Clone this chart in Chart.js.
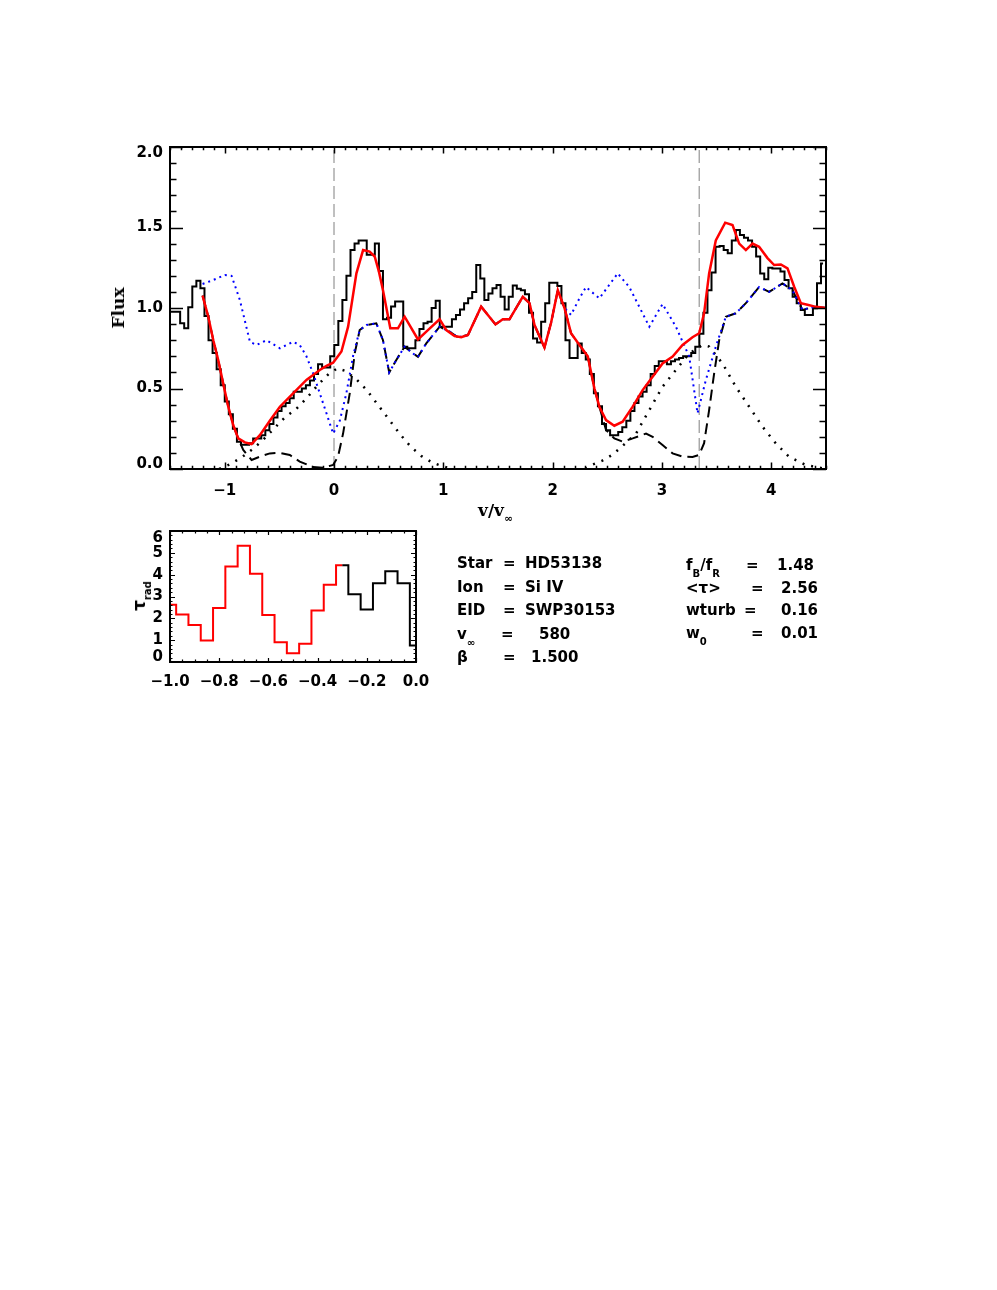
<!DOCTYPE html>
<html>
<head>
<meta charset="utf-8">
<script src="https://cdn.jsdelivr.net/npm/chart.js@4.4.1/dist/chart.umd.min.js"></script>
<style>
  html, body { margin: 0; padding: 0; background: #fff; }
  body { width: 997px; height: 1290px; position: relative; overflow: hidden; color: #000;
         font-family: "DejaVu Sans", sans-serif; }
  canvas { position: absolute; left: 0; }
  #mainChart { top: 0; }
  #tauChart { top: 515px; }
  .t { position: absolute; font-size: 15px; font-weight: bold; line-height: 20px; white-space: nowrap; }
  .t sub { font-size: 10px; line-height: 0; vertical-align: -7px; }
  .title { position: absolute; font-family: "DejaVu Serif", serif; font-weight: bold; font-size: 17px; line-height: 20px; white-space: nowrap; }
  .title sub { font-size: 11px; line-height: 0; vertical-align: -6px; }
</style>
</head>
<body>
<canvas id="mainChart" width="997" height="505"></canvas>
<canvas id="tauChart" width="997" height="185"></canvas>

<!-- axis titles -->
<div class="title" style="left:118px; top:308px; transform:translate(-50%,-50%) rotate(-90deg);">Flux</div>
<div class="title" style="left:478px; top:500px;">v/v<sub>∞</sub></div>
<div class="title" style="left:139px; top:596px; transform:translate(-50%,-50%) rotate(-90deg); font-family:'DejaVu Sans',sans-serif;">τ<sub style="font-size:10px">rad</sub></div>

<!-- fit parameters, left column -->
<div class="t" style="left:457px; top:553px;">Star</div>
<div class="t" style="left:503px; top:553px;">=</div>
<div class="t" style="left:525px; top:553px;">HD53138</div>
<div class="t" style="left:457px; top:577px;">Ion</div>
<div class="t" style="left:503px; top:577px;">=</div>
<div class="t" style="left:525px; top:577px;">Si IV</div>
<div class="t" style="left:457px; top:600px;">EID</div>
<div class="t" style="left:503px; top:600px;">=</div>
<div class="t" style="left:525px; top:600px;">SWP30153</div>
<div class="t" style="left:457px; top:624px;">v<sub>∞</sub></div>
<div class="t" style="left:501px; top:624px;">=</div>
<div class="t" style="left:539px; top:624px;">580</div>
<div class="t" style="left:457px; top:647px;">β</div>
<div class="t" style="left:503px; top:647px;">=</div>
<div class="t" style="left:531px; top:647px;">1.500</div>

<!-- fit parameters, right column -->
<div class="t" style="left:686px; top:555px;">f<sub>B</sub>/f<sub>R</sub></div>
<div class="t" style="left:746px; top:555px;">=</div>
<div class="t" style="left:777px; top:555px;">1.48</div>
<div class="t" style="left:686px; top:578px;">&lt;τ&gt;</div>
<div class="t" style="left:751px; top:578px;">=</div>
<div class="t" style="left:781px; top:578px;">2.56</div>
<div class="t" style="left:686px; top:600px;">wturb</div>
<div class="t" style="left:744px; top:600px;">=</div>
<div class="t" style="left:781px; top:600px;">0.16</div>
<div class="t" style="left:686px; top:623px;">w<sub>0</sub></div>
<div class="t" style="left:751px; top:623px;">=</div>
<div class="t" style="left:781px; top:623px;">0.01</div>

<script>
// ---- observed flux histogram (0.1 A bins) ----
const obsStart = -1.50;
const obsStep = 0.0371;
const obsFlux = [
  0.977, 0.977, 0.977, 0.905, 0.874, 1.004, 1.133, 1.17, 1.122, 0.95,
  0.80, 0.72, 0.62, 0.52, 0.42, 0.34, 0.25, 0.17, 0.15, 0.15,
  0.16, 0.19, 0.19, 0.21, 0.24, 0.28, 0.32, 0.36, 0.39, 0.41,
  0.44, 0.48, 0.48, 0.50, 0.52, 0.55, 0.59, 0.65, 0.63, 0.63,
  0.70, 0.77, 0.92, 1.05, 1.20, 1.36, 1.40, 1.42, 1.42, 1.33,
  1.33, 1.40, 1.23, 0.93, 0.94, 1.01, 1.04, 1.04, 0.76, 0.75,
  0.75, 0.80, 0.87, 0.905, 0.915, 1.00, 1.045, 0.884, 0.884, 0.884,
  0.93, 0.957, 0.99, 1.03, 1.06, 1.10, 1.267, 1.184, 1.05, 1.09,
  1.122, 1.143, 1.07, 0.99, 1.07, 1.14, 1.12, 1.11, 1.085, 0.97,
  0.81, 0.785, 0.915, 1.03, 1.157, 1.157, 1.137, 1.03, 0.80, 0.69,
  0.69, 0.78, 0.72, 0.68, 0.59, 0.47, 0.39, 0.28, 0.24, 0.21,
  0.21, 0.23, 0.26, 0.30, 0.36, 0.41, 0.45, 0.48, 0.52, 0.59,
  0.64, 0.67, 0.67, 0.65, 0.67, 0.68, 0.69, 0.70, 0.70, 0.72,
  0.76, 0.84, 0.97, 1.11, 1.22, 1.38, 1.385, 1.36, 1.34, 1.42,
  1.484, 1.453, 1.437, 1.42, 1.38, 1.32, 1.215, 1.178, 1.25, 1.246,
  1.246, 1.226, 1.174, 1.122, 1.07, 1.03, 0.988, 0.957, 0.957, 0.998,
  1.153, 1.277
];

// ---- model fit (red) ----
const fitV = [
  -1.202, -1.150, -1.104, -1.059, -1.013, -0.967, -0.922, -0.876, -0.815, -0.754,
  -0.678, -0.587, -0.495, -0.374, -0.252, -0.130, -0.069, -0.008, 0.068, 0.129,
  0.205, 0.266, 0.326, 0.372, 0.411, 0.448, 0.515, 0.585, 0.646, 0.768,
  0.859, 0.966, 1.027, 1.103, 1.164, 1.225, 1.346, 1.477, 1.544, 1.605,
  1.727, 1.788, 1.834, 1.925, 1.986, 2.047, 2.108, 2.168, 2.245, 2.321,
  2.382, 2.427, 2.488, 2.564, 2.640, 2.732, 2.823, 2.914, 3.005, 3.097,
  3.188, 3.279, 3.340, 3.385, 3.431, 3.492, 3.578, 3.645, 3.706, 3.767,
  3.828, 3.888, 3.965, 4.026, 4.087, 4.148, 4.209, 4.270, 4.330, 4.391, 4.5
];
const fitFlux = [
  1.077, 0.946, 0.80, 0.677, 0.53, 0.387, 0.273, 0.19, 0.165, 0.155,
  0.21, 0.30, 0.387, 0.47, 0.553, 0.615, 0.64, 0.66, 0.73, 0.884,
  1.215, 1.36, 1.35, 1.32, 1.226, 1.11, 0.874, 0.874, 0.946, 0.805,
  0.863, 0.930, 0.863, 0.826, 0.818, 0.832, 1.008, 0.898, 0.930, 0.930,
  1.07, 1.03, 0.894, 0.754, 0.91, 1.11, 1.00, 0.843, 0.77, 0.70,
  0.50, 0.387, 0.304, 0.269, 0.294, 0.387, 0.49, 0.573, 0.656, 0.698,
  0.77, 0.818, 0.843, 0.967, 1.215, 1.42, 1.53, 1.515, 1.40, 1.36,
  1.40, 1.38, 1.31, 1.267, 1.27, 1.246, 1.132, 1.03, 1.02, 1.01, 1.0
];

// ---- blue dotted profile ----
const blueV = [
  -1.202, -1.104, -0.998, -0.937, -0.861, -0.769, -0.709, -0.617, -0.495, -0.374,
  -0.313, -0.252, -0.191, -0.130, -0.069, -0.008, 0.053, 0.113, 0.174, 0.235,
  0.296, 0.387, 0.448, 0.505, 0.570, 0.646, 0.722, 0.768, 0.844, 0.966,
  1.057, 1.133, 1.225, 1.346, 1.477, 1.544, 1.605, 1.727, 1.788, 1.834,
  1.925, 1.986, 2.047, 2.108, 2.168, 2.245, 2.305, 2.427, 2.595, 2.701,
  2.884, 3.005, 3.127, 3.249, 3.325, 3.401, 3.492, 3.584, 3.675, 3.767,
  3.888, 3.980, 4.102, 4.193, 4.285, 4.391, 4.5
];
const blueFlux = [
  1.149, 1.174, 1.205, 1.20, 1.05, 0.79, 0.77, 0.80, 0.75, 0.79,
  0.77, 0.70, 0.594, 0.47, 0.346, 0.22, 0.30, 0.47, 0.70, 0.863,
  0.894, 0.905, 0.80, 0.60, 0.677, 0.76, 0.718, 0.697, 0.78, 0.884,
  0.853, 0.818, 0.832, 1.008, 0.898, 0.930, 0.930, 1.07, 1.03, 0.894,
  0.754, 0.91, 1.11, 1.00, 0.957, 1.06, 1.13, 1.06, 1.215, 1.13,
  0.884, 1.025, 0.884, 0.698, 0.346, 0.553, 0.76, 0.946, 0.967, 1.03,
  1.13, 1.10, 1.153, 1.11, 0.988, 1.008, 1.0
];

// ---- black dashed profile ----
const dashV = [
  -1.202, -1.150, -1.104, -1.059, -1.013, -0.967, -0.922, -0.876, -0.830, -0.754,
  -0.678, -0.587, -0.495, -0.404, -0.313, -0.191, -0.100, -0.008, 0.037, 0.083,
  0.144, 0.190, 0.235, 0.296, 0.387, 0.448, 0.505, 0.570, 0.646, 0.722,
  0.768, 0.844, 0.966, 1.057, 1.133, 1.225, 1.346, 1.477, 1.544, 1.605,
  1.727, 1.788, 1.834, 1.925, 1.986, 2.047, 2.108, 2.168, 2.245, 2.321,
  2.382, 2.427, 2.488, 2.564, 2.640, 2.732, 2.854, 2.914, 3.005, 3.097,
  3.188, 3.279, 3.340, 3.385, 3.431, 3.477, 3.523, 3.584, 3.675, 3.767,
  3.888, 3.980, 4.102, 4.193, 4.285, 4.391, 4.5
];
const dashFlux = [
  1.077, 0.946, 0.80, 0.677, 0.53, 0.387, 0.273, 0.19, 0.118, 0.056,
  0.077, 0.097, 0.10, 0.087, 0.046, 0.012, 0.008, 0.025, 0.077, 0.22,
  0.47, 0.72, 0.863, 0.894, 0.905, 0.80, 0.60, 0.677, 0.76, 0.718,
  0.697, 0.78, 0.884, 0.853, 0.818, 0.832, 1.008, 0.898, 0.930, 0.930,
  1.07, 1.03, 0.894, 0.754, 0.91, 1.11, 1.00, 0.843, 0.77, 0.70,
  0.50, 0.387, 0.242, 0.19, 0.17, 0.19, 0.22, 0.20, 0.149, 0.097,
  0.077, 0.075, 0.087, 0.16, 0.366, 0.594, 0.80, 0.946, 0.967, 1.03,
  1.13, 1.10, 1.153, 1.11, 0.988, 1.008, 1.0
];

// ---- black dotted components (blue and red line of the doublet) ----
const compAV = [
  -1.05, -0.95, -0.85, -0.75, -0.65, -0.55, -0.45, -0.35, -0.25, -0.15,
  -0.05, 0.03, 0.10, 0.20, 0.30, 0.40, 0.50, 0.60, 0.70, 0.80, 0.90, 1.00, 1.10
];
const compAFlux = [
  0.0, 0.03, 0.07, 0.12, 0.18, 0.25, 0.32, 0.37, 0.44, 0.52,
  0.59, 0.625, 0.61, 0.56, 0.49, 0.40, 0.31, 0.22, 0.14, 0.08, 0.04, 0.015, 0.0
];
const compBV = [
  2.30, 2.336, 2.45, 2.55, 2.65, 2.762, 2.884, 3.005, 3.127, 3.249,
  3.371, 3.431, 3.553, 3.675, 3.797, 3.919, 4.04, 4.16, 4.315, 4.468
];
const compBFlux = [
  0.0, 0.02, 0.05, 0.09, 0.15, 0.22, 0.366, 0.511, 0.615, 0.718,
  0.77, 0.76, 0.656, 0.511, 0.387, 0.263, 0.16, 0.077, 0.025, 0.004
];

// rest positions of the two doublet lines
const lineMarks = [0, 3.34];

// ---- radial optical depth (lower panel) ----
const tauRedV = [-1.00, -0.95, -0.90, -0.85, -0.80, -0.75, -0.70, -0.65, -0.60, -0.55, -0.50, -0.45, -0.40, -0.35, -0.30];
const tauRed = [2.62, 2.18, 1.70, 0.98, 2.47, 4.37, 5.32, 4.04, 2.15, 0.90, 0.40, 0.84, 2.36, 3.54, 4.43];
const tauBlackV = [-0.30, -0.25, -0.20, -0.15, -0.10, -0.05, 0.00];
const tauBlack = [4.43, 3.10, 2.40, 3.61, 4.16, 3.61, 0.76];

// tick labels
const mainXTicks = [-1, 0, 1, 2, 3, 4];
const mainYTicks = [0, 0.5, 1.0, 1.5, 2.0];
const tauXTicks = [-1.0, -0.8, -0.6, -0.4, -0.2, 0.0];
const tauYTicks = [0, 1, 2, 3, 4, 5, 6];

const FONT = "'DejaVu Sans', sans-serif";
const pts = (xs, ys) => xs.map((x, i) => ({ x, y: ys[i] }));
const minus = s => s.replace('-', '\u2212');

// frame with inward major/minor ticks on all four sides, IDL style
const frameTicks = {
    id: 'frameTicks',
    // IDL keeps the end labels of the y axis inside the frame: nudge them in
    beforeDraw(chart, args, o) {
        const items = chart.scales.y.getLabelItems();
        if (!items.length) return;
        items[0].options.translation[1] -= o.yEndNudge[0];
        items[items.length - 1].options.translation[1] += o.yEndNudge[1];
    },
    afterDatasetsDraw(chart, args, o) {
        const { ctx, chartArea: a, scales: { x, y } } = chart;
        ctx.save();
        ctx.strokeStyle = '#000';
        ctx.lineWidth = o.tickWidth;
        ctx.beginPath();
        const ticksX = (step, len) => {
            for (let n = Math.ceil(x.min / step - 1e-6); n * step <= x.max + 1e-9; n++) {
                const px = Math.round(x.getPixelForValue(n * step)) + 0.5;
                ctx.moveTo(px, a.bottom); ctx.lineTo(px, a.bottom - len);
                ctx.moveTo(px, a.top); ctx.lineTo(px, a.top + len);
            }
        };
        const ticksY = (step, len) => {
            for (let n = Math.ceil(y.min / step - 1e-6); n * step <= y.max + 1e-9; n++) {
                const py = Math.round(y.getPixelForValue(n * step)) + 0.5;
                ctx.moveTo(a.left, py); ctx.lineTo(a.left + len, py);
                ctx.moveTo(a.right, py); ctx.lineTo(a.right - len, py);
            }
        };
        ticksX(o.xMinor, o.xMinorLen);
        ticksX(o.xMajor, o.xMajorLen);
        ticksY(o.yMinor, o.yMinorLen);
        ticksY(o.yMajor, o.yMajorLen);
        ctx.stroke();
        ctx.lineWidth = o.frameWidth;
        ctx.strokeRect(a.left, a.top, a.right - a.left, a.bottom - a.top);
        ctx.restore();
    }
};

function axis(opts) {
    return {
        type: 'linear',
        min: opts.min,
        max: opts.max,
        grid: { display: false, drawTicks: false },
        border: { display: false },
        afterBuildTicks: s => { s.ticks = opts.ticks.map(v => ({ value: v })); },
        afterFit: opts.fit,
        ticks: {
            color: '#000',
            padding: opts.padding,
            maxRotation: 0,
            autoSkip: false,
            font: { family: FONT, size: 15, weight: 'bold' },
            callback: opts.label
        }
    };
}

const baseOptions = {
    responsive: false,
    animation: false,
    events: [],
    plugins: { legend: { display: false }, tooltip: { enabled: false } },
    elements: { point: { radius: 0 }, line: { tension: 0 } }
};

// ---- main flux panel ----
new Chart(document.getElementById('mainChart'), {
    type: 'line',
    data: {
        datasets: [
            { label: 'fit', data: pts(fitV, fitFlux), borderColor: '#ff0000', borderWidth: 2.5 },
            { label: 'blue', data: pts(blueV, blueFlux), borderColor: '#0000ff', borderWidth: 2, borderDash: [2, 4] },
            { label: 'dashed', data: pts(dashV, dashFlux), borderColor: '#000', borderWidth: 2, borderDash: [11, 6] },
            { label: 'observed', data: obsFlux.map((f, i) => ({ x: obsStart + i * obsStep, y: f })),
              borderColor: '#000', borderWidth: 2, stepped: 'middle' },
            { label: 'compA', data: pts(compAV, compAFlux), borderColor: '#000', borderWidth: 2.5, borderDash: [2, 7] },
            { label: 'compB', data: pts(compBV, compBFlux), borderColor: '#000', borderWidth: 2.5, borderDash: [2, 7] },
            ...lineMarks.map(v => ({ label: 'rest', data: [{ x: v, y: 0 }, { x: v, y: 2 }],
              borderColor: '#808080', borderWidth: 1, borderDash: [13, 5] }))
        ]
    },
    options: {
        ...baseOptions,
        layout: { padding: { left: 0, top: 147, right: 171, bottom: 0 } },
        scales: {
            x: axis({ min: -1.5, max: 4.5, ticks: mainXTicks, padding: 13,
                      fit: s => { s.height = 36; }, label: v => minus(String(v)) }),
            y: axis({ min: 0, max: 2, ticks: mainYTicks, padding: 7,
                      fit: s => { s.width = 170; }, label: v => v.toFixed(1) })
        },
        plugins: {
            ...baseOptions.plugins,
            frameTicks: { frameWidth: 2, tickWidth: 1.5, yEndNudge: [5, 6],
                          xMajor: 1, xMinor: 0.1, xMajorLen: 6.5, xMinorLen: 3.2,
                          yMajor: 0.5, yMinor: 0.1, yMajorLen: 13, yMinorLen: 6.5 }
        }
    },
    plugins: [frameTicks]
});

// ---- tau_rad panel ----
new Chart(document.getElementById('tauChart'), {
    type: 'line',
    data: {
        datasets: [
            { label: 'tau red', data: pts(tauRedV, tauRed), borderColor: '#ff0000', borderWidth: 2, stepped: 'middle' },
            { label: 'tau', data: pts(tauBlackV, tauBlack), borderColor: '#000', borderWidth: 2, stepped: 'middle' }
        ]
    },
    options: {
        ...baseOptions,
        layout: { padding: { left: 0, top: 12, right: 581, bottom: 0 } },
        scales: {
            x: axis({ min: -1, max: 0, ticks: tauXTicks, padding: 11,
                      fit: s => { s.height = 38; }, label: v => minus(v.toFixed(1)) }),
            y: axis({ min: 0, max: 6, ticks: tauYTicks, padding: 7,
                      fit: s => { s.width = 170; }, label: v => String(v) })
        },
        plugins: {
            ...baseOptions.plugins,
            frameTicks: { frameWidth: 2, tickWidth: 1.2, yEndNudge: [5, 7],
                          xMajor: 0.2, xMinor: 0.05, xMajorLen: 4, xMinorLen: 2.5,
                          yMajor: 1, yMinor: 0.2, yMajorLen: 5, yMinorLen: 2.5 }
        }
    },
    plugins: [frameTicks]
});
</script>
</body>
</html>
